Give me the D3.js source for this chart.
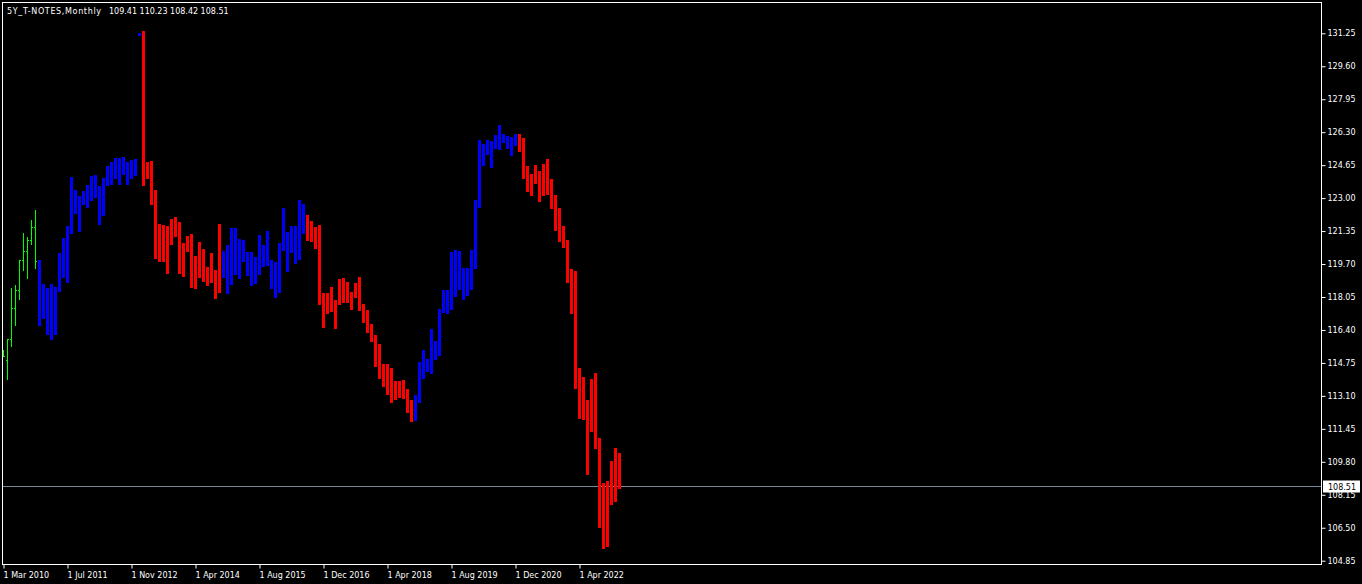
<!DOCTYPE html>
<html><head><meta charset="utf-8">
<script src="https://cdn.jsdelivr.net/npm/d3@7/dist/d3.min.js"></script>
<style>
html,body{margin:0;padding:0;background:#000;overflow:hidden}
svg{display:block}
text{font-family:"DejaVu Sans",sans-serif;font-size:8px;fill:#fff}
</style></head><body><svg id="c" width="1362" height="584"></svg>
<script>
const symbolTitle = "5Y_T-NOTES,Monthly";
const lastOHLC = [109.41, 110.23, 108.42, 108.51];
const bidPrice = 108.51;

const xTickBars = [0, 16, 32, 48, 64, 80, 96, 112, 128, 144];
const xTickLabels = ["1 Mar 2010", "1 Jul 2011", "1 Nov 2012", "1 Apr 2014", "1 Aug 2015",
                     "1 Dec 2016", "1 Apr 2018", "1 Aug 2019", "1 Dec 2020", "1 Apr 2022"];
const yTicks = [104.85, 106.50, 108.15, 109.80, 111.45, 113.10, 114.75, 116.40, 118.05,
                119.70, 121.35, 123.00, 124.65, 126.30, 127.95, 129.60, 131.25];

// monthly bar highs / lows (155 bars)
const highs = [115.40,115.95,118.50,118.65,119.90,121.25,121.05,121.90,122.40,
  119.90,118.70,118.50,118.70,118.55,120.25,121.00,121.60,124.06,123.41,
  123.11,123.36,123.66,124.11,124.16,123.61,124.01,124.61,124.81,125.01,
  125.01,125.06,124.81,124.91,124.96,131.27,131.37,124.81,124.86,123.41,
  121.70,121.65,121.60,121.96,122.06,121.80,120.75,121.10,121.20,120.10,
  120.80,120.45,119.55,120.25,119.40,121.70,120.35,120.65,121.50,121.50,
  120.95,120.90,120.30,120.30,120.05,121.15,120.65,121.35,119.90,119.80,
  120.75,122.51,121.30,121.60,121.60,122.91,122.71,122.16,121.85,121.55,
  121.65,118.25,118.25,118.55,117.90,118.95,119.00,118.80,118.30,118.75,
  119.05,117.70,117.40,116.70,116.15,115.70,114.70,114.70,114.50,113.85,
  113.85,113.90,113.45,112.89,113.14,114.80,115.40,114.95,116.45,115.85,
  117.45,118.40,118.40,120.30,120.40,120.35,119.50,119.50,120.40,122.91,
  125.91,125.71,125.91,125.86,126.16,126.66,126.21,126.11,126.06,126.21,
  126.21,126.01,124.61,124.21,124.66,124.36,124.71,124.96,123.96,123.16,
  122.51,121.60,120.90,119.45,119.35,114.50,114.05,112.89,113.95,114.25,
  110.99,108.74,108.84,109.84,110.49,110.23];
const lows = [115.05,113.90,115.56,116.61,117.92,119.37,118.97,120.67,119.47,
  116.61,116.95,116.15,115.90,116.15,118.30,119.00,118.75,121.20,122.21,
  121.30,122.66,122.51,122.86,123.01,121.65,122.11,123.61,123.66,123.96,
  123.66,124.16,123.66,123.96,124.11,131.13,123.61,123.96,122.66,119.95,
  119.80,119.80,119.20,120.65,121.05,119.20,119.05,120.30,118.50,118.45,
  119.00,118.80,118.60,118.75,117.95,118.25,119.00,118.20,118.65,119.15,
  118.95,119.80,119.10,118.60,118.70,119.15,119.55,119.60,118.45,118.00,
  118.25,120.35,119.30,120.25,119.70,119.90,121.20,120.85,120.80,120.45,
  117.65,116.50,117.20,117.30,116.45,117.65,117.75,117.75,117.40,118.00,
  117.35,116.75,116.25,115.80,114.55,113.95,113.55,113.14,112.74,112.89,
  112.99,112.94,112.24,111.79,111.84,112.74,113.95,114.30,114.20,114.90,
  115.10,117.25,117.20,117.40,118.05,118.40,117.90,118.10,118.40,119.45,
  122.51,124.61,125.16,124.51,125.46,125.41,125.76,125.46,125.11,125.61,
  125.31,123.96,123.31,123.11,123.71,122.81,123.11,123.16,122.46,121.35,
  120.80,120.50,118.75,117.20,113.45,111.94,111.89,109.14,111.29,110.44,
  106.49,105.44,105.54,107.64,107.79,108.42];
// open / close of the first plain OHLC bars (before the trend bars start)
const opens  = [115.35,114.88,115.95,117.50,118.40,119.90,120.35,120.90,121.55];
const closes = [115.10,115.95,117.50,118.40,119.90,120.35,120.90,121.55,119.85];
// G = plain bar, B = up-trend bar, R = down-trend bar
const trend = ["G","G","G","G","G","G","G","G","G",
  "B","B","B","B","B","B","B","B","B","B","B","B","B","B","B","B","B","B","B","B","B","B","B","B","B","B",
  "R","R","R","R","R","R","R","R","R","R","R","R","R","R","R","R","R","R","R","R",
  "B","B","B","B","B","B","B","B","B","B","B","B","B","B","B","B","B","B","B","B","B",
  "R","R","R","R","R","R","R","R","R","R","R","R","R","R","R","R","R","R","R","R","R","R","R","R","R","R","R",
  "B","B","B","B","B","B","B","B","B","B","B","B","B","B","B","B","B","B","B","B","B","B","B","B","B","B",
  "R","R","R","R","R","R","R","R","R","R","R","R","R","R","R","R","R","R","R","R","R","R","R","R","R","R"];
const colors = {G: "#00ff00", B: "#0000ff", R: "#ff0000"};

const svg = d3.select("#c");
svg.append("rect").attr("width", 1362).attr("height", 584).attr("fill", "#000");

const x = d3.scaleLinear().domain([0, 1]).range([3.5, 7.5]);      // bar centre
const y = d3.scaleLinear().domain([104.85, 131.25]).range([560.7, 33.3]);
const L = 2, R = 1321, T = 2, B = 564;

const bars = highs.map((h, i) => ({i, h, l: lows[i], t: trend[i], o: opens[i], c: closes[i]}));

// bid line
const yb = Math.round(y(bidPrice)) - 1.5;
svg.append("line").attr("x1", L).attr("x2", R).attr("y1", yb).attr("y2", yb)
  .attr("stroke", "#778899").attr("stroke-width", 1);

// thick trend bars
svg.append("g").selectAll("rect").data(bars.filter(d => d.t !== "G")).join("rect")
  .attr("x", d => x(d.i) - 1.5)
  .attr("width", 3)
  .attr("y", d => Math.round(y(d.h)))
  .attr("height", d => Math.max(1, Math.round(y(d.l)) - Math.round(y(d.h))))
  .attr("fill", d => colors[d.t])
  .attr("shape-rendering", "crispEdges");

// plain OHLC bars
const g0 = svg.append("g").attr("shape-rendering", "crispEdges");
bars.filter(d => d.t === "G").forEach(d => {
  const cx = x(d.i);
  g0.append("rect").attr("x", cx - 0.5).attr("width", 1)
    .attr("y", Math.round(y(d.h))).attr("height", Math.max(1, Math.round(y(d.l)) - Math.round(y(d.h))))
    .attr("fill", colors.G);
  g0.append("rect").attr("x", cx - 1.5).attr("width", 1).attr("y", Math.round(y(d.o))).attr("height", 1).attr("fill", colors.G);
  g0.append("rect").attr("x", cx + 0.5).attr("width", 1).attr("y", Math.round(y(d.c))).attr("height", 1).attr("fill", colors.G);
});

// frame
svg.append("rect").attr("x", L + 0.5).attr("y", T + 0.5).attr("width", R - L).attr("height", B - T)
  .attr("fill", "none").attr("stroke", "#fff").attr("stroke-width", 1);

// right price axis
const ay = svg.append("g").attr("transform", `translate(${R + 0.5},0)`)
  .call(d3.axisRight(y).tickValues(yTicks).tickFormat(d3.format(".2f")).tickSize(4).tickSizeOuter(0).tickPadding(2));
ay.select(".domain").remove();
ay.selectAll("line").attr("stroke", "#fff");
ay.selectAll("text").attr("fill", "#fff").style("font-family", '"DejaVu Sans",sans-serif').style("font-size", "8px");

// bottom time axis
const ax = svg.append("g").attr("transform", `translate(0,${B + 0.5})`)
  .call(d3.axisBottom(x).tickValues(xTickBars).tickFormat((d, k) => xTickLabels[k]).tickSize(4).tickSizeOuter(0).tickPadding(4));
ax.select(".domain").remove();
ax.selectAll("line").attr("stroke", "#fff");
ax.selectAll("text").attr("text-anchor", "start").attr("x", -0.5).attr("fill", "#fff")
  .style("font-family", '"DejaVu Sans",sans-serif').style("font-size", "8px");

// bid price label
svg.append("rect").attr("x", 1323).attr("y", yb - 6).attr("width", 37).attr("height", 12).attr("fill", "#fff");
svg.append("text").attr("x", 1328).attr("y", yb + 3.5).attr("fill", "#000").style("fill", "#000")
  .text(d3.format(".2f")(bidPrice));

// title
svg.append("text").attr("x", 7).attr("y", 14).text(symbolTitle).attr("textLength", 94);
svg.append("text").attr("x", 109).attr("y", 14).text(lastOHLC.map(d3.format(".2f")).join(" "));
</script></body></html>
